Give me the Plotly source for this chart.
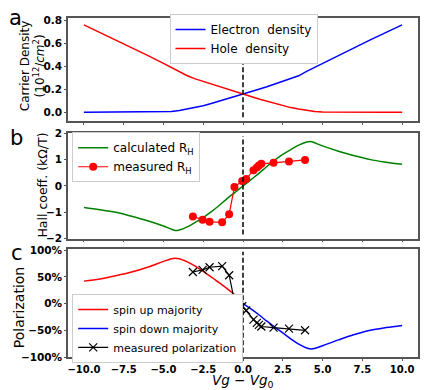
import plotly.graph_objects as go

# ---- data ----
x_grid = [-10, -9, -8, -7, -6, -5, -4.5, -4, -3.5, -3, -2.5, -2, -1.5, -1, -0.5, 0,
          0.5, 1, 1.5, 2, 2.5, 3, 3.5, 4, 4.5, 5, 6, 7, 8, 9, 10]
electron_density = [0, 0, 0, 0, 0, 0.002, 0.006, 0.015, 0.027, 0.04, 0.057, 0.075, 0.095, 0.115,
                    0.136, 0.157, 0.18, 0.20, 0.222, 0.245, 0.267, 0.29, 0.317, 0.355, 0.39,
                    0.425, 0.495, 0.56, 0.63, 0.695, 0.76]
hole_density = [0.76, 0.695, 0.63, 0.56, 0.495, 0.425, 0.39, 0.355, 0.317, 0.29, 0.267, 0.245,
                0.222, 0.20, 0.18, 0.157, 0.136, 0.115, 0.095, 0.075, 0.057, 0.04, 0.027, 0.015,
                0.006, 0.002, 0, 0, 0, 0, 0]

x_rh = [-10, -9, -8, -7, -6, -5, -4.5, -4.25, -4, -3.5, -3, -2.5, -2, -1.5, -1, -0.5, 0,
        0.5, 1, 1.5, 2, 2.5, 3, 3.5, 4, 4.25, 4.5, 5, 6, 7, 8, 9, 10]
rh_calc = [-0.82, -0.9, -1.0, -1.15, -1.32, -1.52, -1.64, -1.69, -1.67, -1.55, -1.38, -1.2,
           -0.98, -0.74, -0.48, -0.24, 0.0, 0.24, 0.48, 0.74, 0.98, 1.2, 1.38, 1.55, 1.67,
           1.69, 1.64, 1.52, 1.32, 1.15, 1.0, 0.9, 0.82]

x_meas = [-3.15, -2.54, -2.1, -1.31, -0.87, -0.54, -0.05, 0.2, 0.66, 0.87, 1.0, 1.15,
          1.92, 2.89, 3.9]
rh_meas = [-1.16, -1.28, -1.36, -1.38, -1.07, -0.04, 0.19, 0.26, 0.6, 0.7, 0.78, 0.84,
           0.88, 0.93, 0.99]
pol_meas = [0.59, 0.63, 0.68, 0.70, 0.53, 0.05, -0.05, -0.13, -0.30, -0.36, -0.40, -0.43,
            -0.45, -0.47, -0.50]

x_up = [-10, -9, -8, -7, -6, -5, -4.5, -4.3, -4, -3.5, -3, -2.5, -2, -1.5, -1, -0.5, 0]
pol_up = [0.42, 0.46, 0.52, 0.59, 0.68, 0.79, 0.84, 0.85, 0.84, 0.78, 0.70, 0.60, 0.50,
          0.39, 0.28, 0.16, 0.03]
x_down = [0, 0.5, 1, 1.5, 2, 2.5, 3, 3.5, 4, 4.3, 4.5, 5, 6, 7, 8, 9, 10]
pol_down = [0.0, -0.1, -0.21, -0.33, -0.44, -0.55, -0.66, -0.76, -0.83, -0.85, -0.84,
            -0.79, -0.68, -0.58, -0.5, -0.45, -0.41]

x_ticks = [-10, -7.5, -5, -2.5, 0, 2.5, 5, 7.5, 10]

# ---- figure ----
fig = go.Figure()
fig.add_trace(go.Scatter(x=x_grid, y=electron_density, mode="lines", name="Electron  density",
                         line=dict(color="blue", width=1.5), xaxis="x", yaxis="y", legend="legend"))
fig.add_trace(go.Scatter(x=x_grid, y=hole_density, mode="lines", name="Hole  density",
                         line=dict(color="red", width=1.5), xaxis="x", yaxis="y", legend="legend"))

fig.add_trace(go.Scatter(x=x_rh, y=rh_calc, mode="lines", name="calculated R<sub>H</sub>",
                         line=dict(color="green", width=1.5, shape="spline"),
                         xaxis="x2", yaxis="y2", legend="legend2"))
fig.add_trace(go.Scatter(x=x_meas, y=rh_meas, mode="lines+markers", name="measured R<sub>H</sub>",
                         line=dict(color="red", width=1.2), marker=dict(color="red", size=8),
                         xaxis="x2", yaxis="y2", legend="legend2"))

fig.add_trace(go.Scatter(x=x_up, y=pol_up, mode="lines", name="spin up majority",
                         line=dict(color="red", width=1.5, shape="spline"),
                         xaxis="x3", yaxis="y3", legend="legend3"))
fig.add_trace(go.Scatter(x=x_down, y=pol_down, mode="lines", name="spin down majority",
                         line=dict(color="blue", width=1.5, shape="spline"),
                         xaxis="x3", yaxis="y3", legend="legend3"))
fig.add_trace(go.Scatter(x=x_meas, y=pol_meas, mode="lines+markers", name="measured polarization",
                         line=dict(color="black", width=1.2),
                         marker=dict(symbol="x-thin", size=8, line=dict(color="black", width=1.2)),
                         xaxis="x3", yaxis="y3", legend="legend3"))

tickfont = dict(family="DejaVu Sans", size=10.5, color="black", weight="bold")
frame = dict(showline=True, mirror=True, linecolor="#555", linewidth=1.5, showgrid=False,
             zeroline=False, ticks="outside", ticklen=2, tickcolor="#555", tickfont=tickfont)
xframe = dict(frame, tickfont=dict(tickfont, size=10))

dom = {"y": [0.695, 1.0], "y2": [0.349, 0.660], "y3": [0.0, 0.320]}

legfont = dict(size=12, family="DejaVu Sans", color="black")
layout = dict(
    width=433, height=390,
    margin=dict(l=68, r=15, t=13, b=33),
    paper_bgcolor="white", plot_bgcolor="white",
    font=dict(family="DejaVu Sans", color="black"),
    xaxis=dict(domain=[0, 1], range=[-11, 11], anchor="y", tickvals=x_ticks, showticklabels=False, **xframe),
    xaxis2=dict(domain=[0, 1], range=[-11, 11], anchor="y2", tickvals=x_ticks, showticklabels=False, **xframe),
    xaxis3=dict(domain=[0, 1], range=[-11, 11], anchor="y3", tickvals=x_ticks, tickformat=".1f", **xframe),
    yaxis=dict(domain=dom["y"], range=[-0.08, 0.82], anchor="x", tickvals=[0, 0.2, 0.4, 0.6, 0.8],
               tickformat=".1f", **frame),
    yaxis2=dict(domain=dom["y2"], range=[-2, 2], anchor="x2", tickvals=[-2, -1, 0, 1, 2], **frame),
    yaxis3=dict(domain=dom["y3"], range=[-1.0, 1.03], anchor="x3", tickvals=[-1, -0.5, 0, 0.5, 1],
                tickformat=".0%", **frame),
    legend=dict(x=0.29, y=1.012, xanchor="left", yanchor="top", bgcolor="white", itemwidth=30,
                bordercolor="#ccc", borderwidth=1, font=legfont),
    legend2=dict(x=0.012, y=0.663, xanchor="left", yanchor="top", bgcolor="white", itemwidth=30,
                 bordercolor="#ccc", borderwidth=1, font=legfont),
    legend3=dict(x=0.012, y=0.186, xanchor="left", yanchor="top", bgcolor="white", itemwidth=30,
                 bordercolor="#ccc", borderwidth=1, font=dict(size=11, family="DejaVu Sans", color="black")),
    showlegend=True,
)
fig.update_layout(**layout)

for yr in ["y", "y2", "y3"]:
    xr = {"y": "x", "y2": "x2", "y3": "x3"}[yr]
    fig.add_shape(type="line", xref=xr, yref=f"{yr} domain", x0=0, x1=0, y0=0.04, y1=0.97,
                  line=dict(color="black", width=1.5, dash="5px,2.5px"))

ann = [
    dict(text="a", x=-0.151, y=1.0, font=dict(size=21)),
    dict(text="b", x=-0.148, y=0.645, font=dict(size=21)),
    dict(text="c", x=-0.145, y=0.308, font=dict(size=21)),
]
for a in ann:
    fig.add_annotation(xref="paper", yref="paper", showarrow=False, xanchor="center", yanchor="middle", **a)

fig.add_annotation(xref="paper", yref="paper", x=-0.10, y=0.858,
                   text="Carrier Density<br>(10<sup>12</sup>/<i>cm</i><sup>2</sup>)",
                   textangle=-90, showarrow=False, font=dict(size=12), xanchor="center", yanchor="middle")
fig.add_annotation(xref="paper", yref="paper", x=-0.074, y=0.506, text="Hall coeff. (kΩ/T)",
                   textangle=-90, showarrow=False, font=dict(size=12.5), xanchor="center", yanchor="middle")
fig.add_annotation(xref="paper", yref="paper", x=-0.141, y=0.146, text="Polarization",
                   textangle=-90, showarrow=False, font=dict(size=14), xanchor="center", yanchor="middle")
fig.add_annotation(xref="paper", yref="paper", x=0.5, y=-0.071, text="<i>Vg</i> − <i>Vg</i><sub>0</sub>",
                   showarrow=False, font=dict(size=13.5), xanchor="center", yanchor="middle")

fig.write_html("out.html", config={"displayModeBar": False},
               post_script="document.body.style.margin='0px';")
